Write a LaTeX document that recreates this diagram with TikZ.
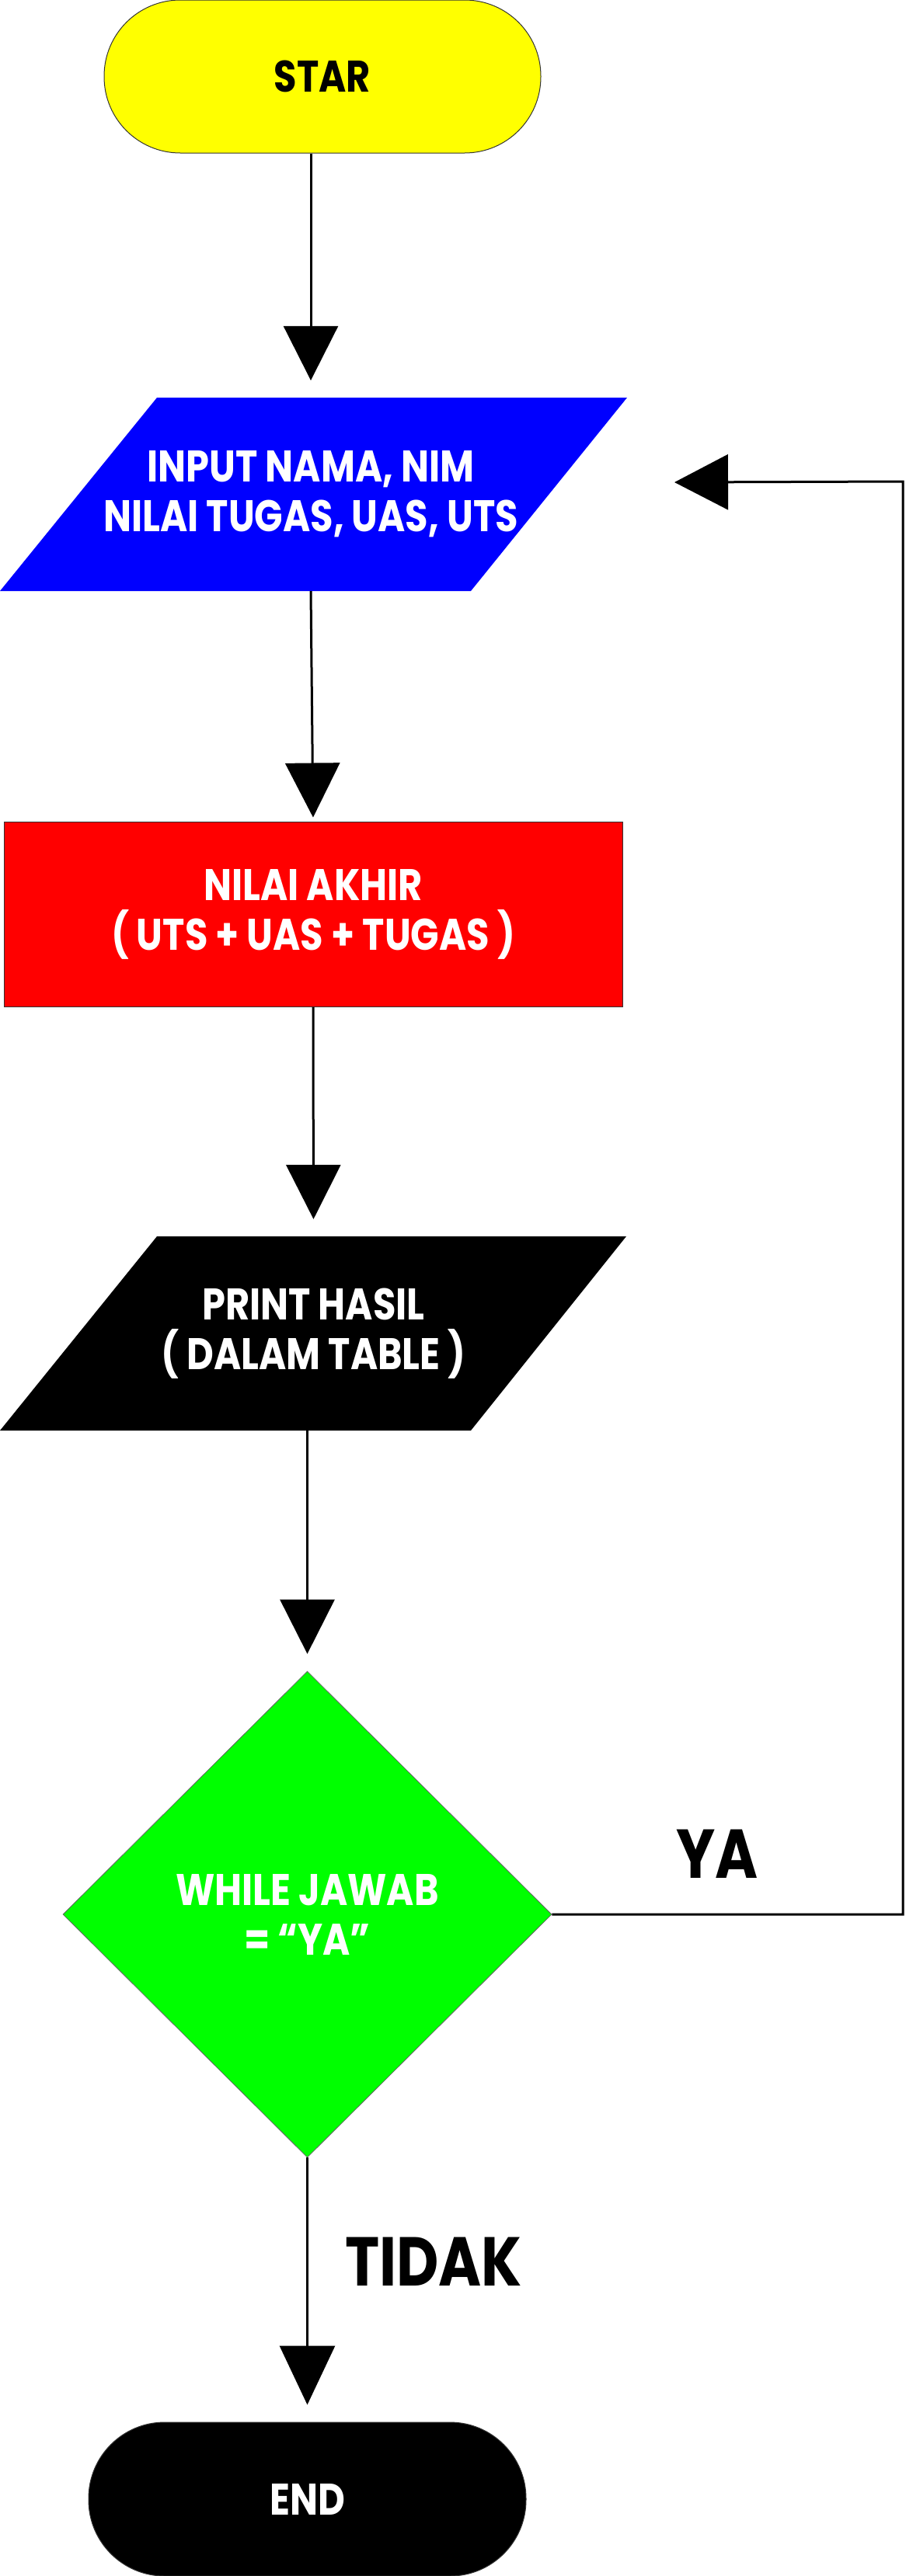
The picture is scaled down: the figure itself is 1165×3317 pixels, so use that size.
\documentclass[tikz,border=0pt]{standalone}
\usepackage{fontspec}
\setmainfont{Poppins}[FakeStretch=0.84]
\usetikzlibrary{arrows.meta,shapes.geometric}
\definecolor{cyellow}{RGB}{255,255,0}
\definecolor{cblue}{RGB}{0,0,255}
\definecolor{cred}{RGB}{255,0,0}
\definecolor{cgreen}{RGB}{0,255,0}
\begin{document}
\begin{tikzpicture}[x=1pt,y=-1pt,
  txt/.style={font=\fontsize{57}{64}\selectfont\bfseries, align=center, inner sep=0pt},
  big/.style={font=\fontsize{89}{96}\selectfont\bfseries, inner sep=0pt},
  term/.style={rectangle, rounded corners=98pt, minimum width=562pt, minimum height=197pt, draw=black!80, line width=1pt},
  conn/.style={line width=3pt, -{Triangle[length=70pt,width=70pt]}, shorten >=22pt},
]
\useasboundingbox (0,0) rectangle (1165,3317);

% start
\node[term, fill=cyellow, txt, text=black] (start) at (415,98.5) {STAR};

% input parallelogram
\fill[cblue] (202,512) -- (807,512) -- (606,761) -- (0,761) -- cycle;
\node[txt, text=white, minimum height=249pt] (inp) at (400,636.5) {INPUT NAMA, NIM\\NILAI TUGAS, UAS, UTS};

% process
\node[txt, text=white, fill=cred, draw=black!80, line width=1pt, minimum width=796pt, minimum height=238pt] (calc) at (403,1177) {NILAI AKHIR\\( UTS + UAS + TUGAS )};

% output parallelogram
\fill[black] (202,1592) -- (806,1592) -- (606,1842) -- (0,1842) -- cycle;
\node[txt, text=white, minimum height=250pt] (out) at (403.5,1717) {PRINT HASIL\\( DALAM TABLE )};

% decision
\node[diamond, fill=cgreen, draw=black!60, line width=0.8pt, minimum width=629pt, minimum height=626pt, txt, text=white] (dec) at (395.5,2465) {WHILE JAWAB\\= “YA”};

% end
\node[term, fill=black, txt, text=white, minimum width=563pt, minimum height=198pt] (finish) at (395.5,3218) {END};

% labels
\node[big] (ya) at (923,2387) {YA};
\node[big] (tidak) at (558,2912) {TIDAK};

% connectors
\draw[conn] (start.south -| inp.north) -- (inp.north);
\draw[conn, shorten >=5pt] (inp.south) -- (calc.north);
\draw[conn] (calc.south) -- (out.north);
\draw[conn] (out.south -| dec.north) -- (dec.north);
\draw[conn, -{Triangle[length=76pt,width=71pt]}] (dec.south) -- (finish.north);

% loop back
\coordinate (rturn) at (1162,620);
\coordinate (backin) at (868,621);
\draw[line width=3pt, -{Triangle[length=69pt,width=71pt]}] (dec.east) -- (dec.east -| rturn) -- (rturn) -- (backin);
\end{tikzpicture}
\end{document}
